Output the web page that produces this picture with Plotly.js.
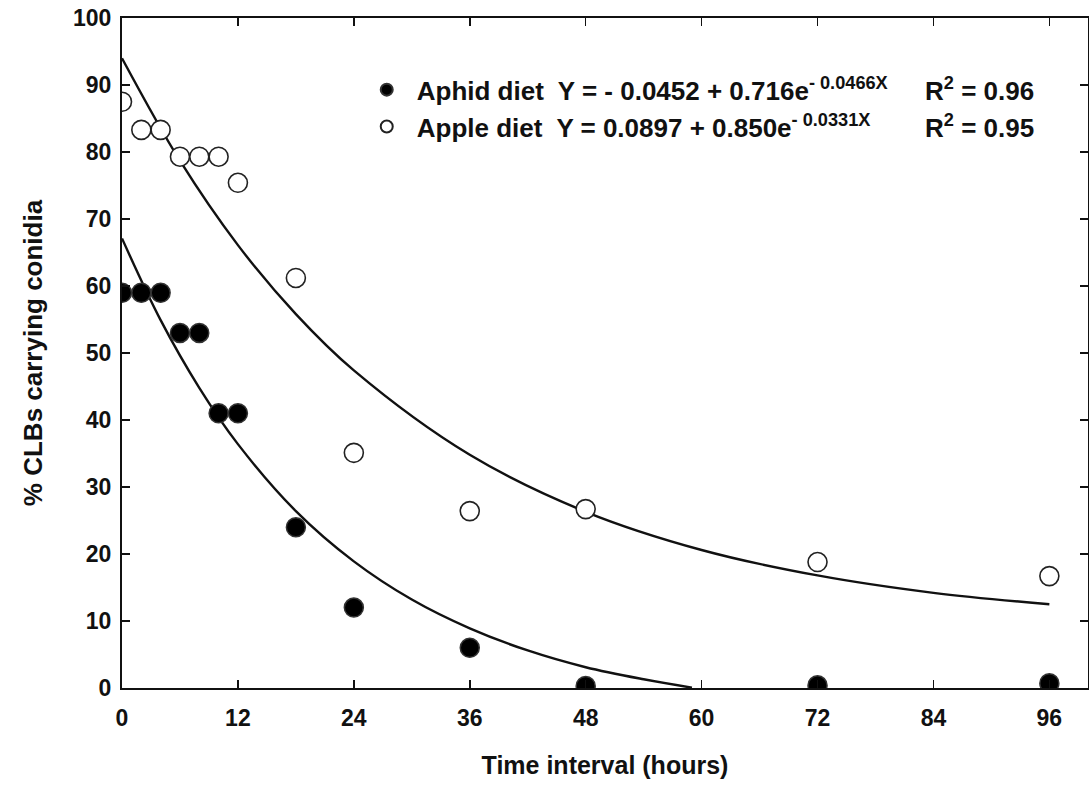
<!DOCTYPE html>
<html>
<head>
<meta charset="utf-8">
<script src="https://cdn.plot.ly/plotly-3.0.1.min.js"></script>
<style>html,body{margin:0;padding:0;background:#fff;}#chart{width:1089px;height:788px;}</style>
</head>
<body>
<div id="chart"></div>
<script>
// Observed points (hours, % CLBs carrying conidia)
const hours = [0, 2, 4, 6, 8, 10, 12, 18, 24, 36, 48, 72, 96];
const aphidPct = [59, 59, 59, 53, 53, 41, 41, 24, 12, 6, 0.3, 0.4, 0.7];
const applePct = [87.5, 83.3, 83.3, 79.3, 79.3, 79.3, 75.4, 61.2, 35.1, 26.4, 26.7, 18.8, 16.7];

// Fitted curves
const aphidFitX = [0, 4, 8, 12, 18, 24, 30, 36, 42, 48, 54, 59];
const aphidFitY = [67.1, 54.9, 44.8, 36.4, 26.4, 18.9, 13.2, 8.9, 5.6, 3.1, 1.3, 0.05];
const appleFitX = [0, 6, 12, 18, 24, 36, 48, 60, 72, 84, 96];
const appleFitY = [94.0, 78.7, 66.1, 55.8, 47.4, 34.8, 26.3, 20.6, 16.8, 14.2, 12.5];

const xTicks = [0, 12, 24, 36, 48, 60, 72, 84, 96];
const yTicks = [0, 10, 20, 30, 40, 50, 60, 70, 80, 90, 100];

const aphidName = "Aphid diet&nbsp; Y = - 0.0452 + 0.716e<sup>- 0.0466X</sup>";
const appleName = "Apple diet&nbsp; Y = 0.0897 + 0.850e<sup>- 0.0331X</sup>";
const r2Labels = ["R<sup>2</sup> = 0.96", "R<sup>2</sup> = 0.95"];

const FONT = "Arial, 'Liberation Sans', sans-serif";
const INK = "#111";

const traces = [
  {x: aphidFitX, y: aphidFitY, mode: "lines", line: {color: INK, width: 2.4, shape: "spline"}, showlegend: false, hoverinfo: "skip"},
  {x: appleFitX, y: appleFitY, mode: "lines", line: {color: INK, width: 2.4, shape: "spline"}, showlegend: false, hoverinfo: "skip"},
  {x: hours, y: aphidPct, mode: "markers", name: aphidName,
   marker: {symbol: "circle", size: 19, color: "#000", line: {color: "#333", width: 1.5}}},
  {x: hours, y: applePct, mode: "markers", name: appleName,
   marker: {symbol: "circle", size: 19, color: "#fff", line: {color: "#222", width: 1.6}}}
];

const layout = {
  width: 1089, height: 788,
  margin: {l: 122, r: 1, t: 18, b: 100},
  paper_bgcolor: "#fff", plot_bgcolor: "#fff",
  font: {family: FONT, color: INK, size: 20},
  showlegend: true,
  legend: {x: 0.243, y: 0.928, xanchor: "left", yanchor: "top", bgcolor: "rgba(0,0,0,0)",
           font: {family: FONT, size: 26, color: INK, weight: "bold"}, tracegroupgap: 0,
           itemsizing: "constant", traceorder: "normal", itemwidth: 50},
  xaxis: {
    range: [0, 100], tickvals: xTicks, ticktext: xTicks.map(String),
    ticks: "inside", ticklen: 8, tickwidth: 1.5, tickcolor: INK,
    showline: true, linecolor: INK, linewidth: 2, mirror: "ticks",
    showgrid: false, zeroline: false, ticklabelstandoff: 8,
    tickfont: {family: FONT, size: 23, color: INK, weight: "bold"},
    title: {text: "Time interval (hours)", font: {family: FONT, size: 25, color: INK, weight: "bold"}, standoff: 27}
  },
  yaxis: {
    range: [0, 100], tickvals: yTicks, ticktext: yTicks.map(String),
    ticks: "inside", ticklen: 8, tickwidth: 1.5, tickcolor: INK,
    showline: true, linecolor: INK, linewidth: 2, mirror: "ticks",
    showgrid: false, zeroline: false, ticklabelstandoff: 4,
    tickfont: {family: FONT, size: 23, color: INK, weight: "bold"},
    title: {text: "% CLBs carrying conidia", font: {family: FONT, size: 26, color: INK, weight: "bold"}, standoff: 23}
  },
  annotations: [
    {xref: "paper", yref: "paper", x: 0.829, y: 0.893, xanchor: "left", yanchor: "middle", showarrow: false,
     text: r2Labels[0], font: {family: FONT, size: 26, color: INK, weight: "bold"}},
    {xref: "paper", yref: "paper", x: 0.829, y: 0.838, xanchor: "left", yanchor: "middle", showarrow: false,
     text: r2Labels[1], font: {family: FONT, size: 26, color: INK, weight: "bold"}}
  ]
};

Plotly.newPlot("chart", traces, layout, {displayModeBar: false, staticPlot: true});
</script>
</body>
</html>
